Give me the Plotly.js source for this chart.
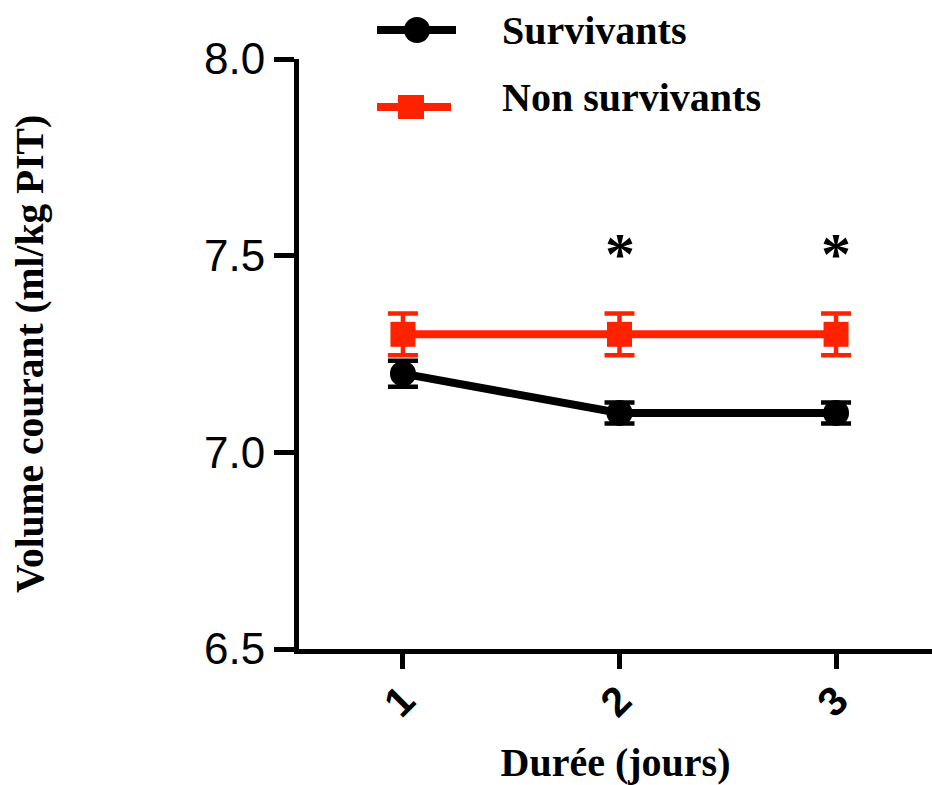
<!DOCTYPE html>
<html>
<head>
<meta charset="utf-8">
<script src="https://cdn.plot.ly/plotly-3.0.1.min.js"></script>
<style>html,body{margin:0;padding:0;background:#fff;}#chart{width:932px;height:785px;}</style>
</head>
<body>
<div id="chart"></div>
<script>
// Data
const days = [1, 2, 3];
const dayLabels = ['1', '2', '3'];
const survivants = [7.2, 7.1, 7.1];
const survivantsErr = [0.033, 0.027, 0.027];
const nonSurvivants = [7.3, 7.3, 7.3];
const nonSurvivantsErr = [0.053, 0.053, 0.053];
const sigDays = [2, 3];
const sigY = [7.505, 7.505];
const yTicks = [6.5, 7.0, 7.5, 8.0];

const RED = '#ff2200';
const BLACK = '#000000';
const serif = 'Liberation Serif, Times New Roman, serif';
const sans = 'Liberation Sans, Arial, sans-serif';

const traces = [
  {
    x: days, y: nonSurvivants, name: 'Non survivants', type: 'scatter', mode: 'lines+markers',
    line: {color: RED, width: 8},
    marker: {symbol: 'square', size: 25, color: RED},
    error_y: {type: 'data', array: nonSurvivantsErr, visible: true, color: RED, thickness: 4.5, width: 15},
    showlegend: false, cliponaxis: false
  },
  {
    x: days, y: survivants, name: 'Survivants', type: 'scatter', mode: 'lines+markers',
    line: {color: BLACK, width: 8},
    marker: {symbol: 'circle', size: 26, color: BLACK},
    error_y: {type: 'data', array: survivantsErr, visible: true, color: BLACK, thickness: 4.5, width: 15},
    showlegend: false, cliponaxis: false
  }
];

// paper coordinate helpers for the hand-built legend
const L = 299, R = 932, T = 59, B = 649;
const px = v => (v - L) / (R - L);
const py = v => (B - v) / (B - T);

const shapes = [
  {type: 'line', xref: 'paper', yref: 'paper', x0: px(377), x1: px(456), y0: py(30), y1: py(30), line: {color: BLACK, width: 8}},
  {type: 'circle', xref: 'paper', yref: 'paper', x0: px(404), x1: px(430), y0: py(43), y1: py(17), fillcolor: BLACK, line: {width: 0}},
  {type: 'line', xref: 'paper', yref: 'paper', x0: px(377), x1: px(451), y0: py(107), y1: py(107), line: {color: RED, width: 8}},
  {type: 'rect', xref: 'paper', yref: 'paper', x0: px(398), x1: px(424), y0: py(119), y1: py(95), fillcolor: RED, line: {width: 0}}
];

const annotations = [
  {xref: 'paper', yref: 'paper', x: px(500), y: py(30), xanchor: 'left', yanchor: 'middle', text: '<b>Survivants</b>', showarrow: false, font: {family: serif, size: 40, color: BLACK}},
  {xref: 'paper', yref: 'paper', x: px(500), y: py(97), xanchor: 'left', yanchor: 'middle', text: '<b>Non survivants</b>', showarrow: false, font: {family: serif, size: 40, color: BLACK}}
];
sigDays.forEach((d, i) => annotations.push({
  x: d, y: sigY[i], xref: 'x', yref: 'y', text: '<b>*</b>', showarrow: false,
  xanchor: 'center', yanchor: 'middle', font: {family: serif, size: 60, color: BLACK}
}));

const layout = {
  width: 932, height: 785,
  margin: {l: L, r: 932 - R, t: T, b: 785 - B},
  paper_bgcolor: '#ffffff', plot_bgcolor: '#ffffff',
  showlegend: false,
  xaxis: {
    range: [0.52, 3.443], tickvals: days, ticktext: dayLabels, tickangle: -45,
    showgrid: false, zeroline: false, showline: true, linecolor: BLACK, linewidth: 5,
    ticks: 'outside', ticklen: 15, tickwidth: 5, tickcolor: BLACK,
    ticklabelstandoff: -9,
    tickfont: {family: sans, size: 41, color: BLACK, weight: 'bold'},
    title: {text: '<b>Durée (jours)</b>', font: {family: serif, size: 40, color: BLACK}, standoff: 44}
  },
  yaxis: {
    range: [6.5, 8.0], tickvals: yTicks, tickformat: '.1f',
    showgrid: false, zeroline: false, showline: true, linecolor: BLACK, linewidth: 5,
    ticks: 'outside', ticklen: 20, tickwidth: 5, tickcolor: BLACK,
    tickfont: {family: sans, size: 44, color: BLACK},
    title: {text: '<b>Volume courant (ml/kg PIT)</b>', font: {family: serif, size: 39.5, color: BLACK}, standoff: 150}
  },
  shapes: shapes,
  annotations: annotations
};

Plotly.newPlot('chart', traces, layout, {displayModeBar: false, staticPlot: true});
</script>
</body>
</html>
